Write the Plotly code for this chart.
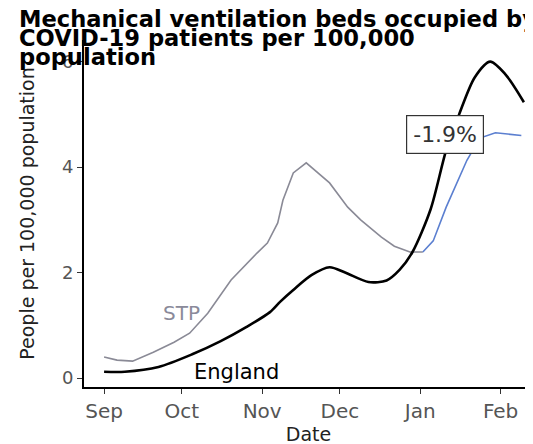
import plotly.graph_objects as go

# England series
eng_dates = ["2020-09-01", "2020-09-09", "2020-09-22", "2020-10-05", "2020-10-16", "2020-10-26",
             "2020-11-04", "2020-11-08", "2020-11-13", "2020-11-20", "2020-11-27", "2020-12-03",
             "2020-12-12", "2020-12-19", "2020-12-24", "2020-12-29", "2021-01-05", "2021-01-11",
             "2021-01-16", "2021-01-22", "2021-01-28", "2021-02-03", "2021-02-10"]
eng_vals = [0.12, 0.12, 0.21, 0.45, 0.70, 0.97,
            1.25, 1.45, 1.67, 1.95, 2.10, 2.00,
            1.82, 1.85, 2.05, 2.39, 3.20, 4.32,
            5.00, 5.70, 6.00, 5.75, 5.23]

# STP series (grey part, then recent blue part)
stp_dates = ["2020-09-01", "2020-09-06", "2020-09-12", "2020-09-20", "2020-09-28", "2020-10-04",
             "2020-10-11", "2020-10-20", "2020-10-30", "2020-11-03", "2020-11-07", "2020-11-09",
             "2020-11-13", "2020-11-18", "2020-11-27", "2020-12-04", "2020-12-09", "2020-12-17",
             "2020-12-22", "2020-12-28", "2021-01-02"]
stp_vals = [0.40, 0.34, 0.32, 0.49, 0.68, 0.85,
            1.23, 1.86, 2.37, 2.56, 2.94, 3.37,
            3.89, 4.08, 3.70, 3.24, 3.00, 2.67,
            2.50, 2.39, 2.39]
stp_recent_dates = ["2021-01-02", "2021-01-06", "2021-01-11", "2021-01-19", "2021-01-24",
                    "2021-01-30", "2021-02-09"]
stp_recent_vals = [2.39, 2.60, 3.24, 4.13, 4.55, 4.65, 4.60]

y_ticks = [0, 2, 4, 6]
x_tick_dates = ["2020-09-01", "2020-10-01", "2020-11-01", "2020-12-01", "2021-01-01", "2021-02-01"]
x_tick_labels = ["Sep", "Oct", "Nov", "Dec", "Jan", "Feb"]
change_label = "-1.9%"

fig = go.Figure()
fig.add_trace(go.Scatter(x=stp_dates, y=stp_vals, mode="lines",
                         line=dict(color="#8a8a96", width=1.6), showlegend=False))
fig.add_trace(go.Scatter(x=stp_recent_dates, y=stp_recent_vals, mode="lines",
                         line=dict(color="#5b7fd0", width=1.6), showlegend=False))
fig.add_trace(go.Scatter(x=eng_dates, y=eng_vals, mode="lines",
                         line=dict(color="black", width=2.6, shape="spline", smoothing=0.8),
                         showlegend=False))

font = "DejaVu Sans"
fig.update_layout(
    width=533, height=444,
    margin=dict(l=76, r=8, t=32, b=65),
    paper_bgcolor="white", plot_bgcolor="white",
    font=dict(family=font),
    xaxis=dict(range=["2020-08-24 06:00", "2021-02-13 12:00"], tickvals=x_tick_dates,
               ticktext=x_tick_labels, showgrid=False, zeroline=False, automargin=False,
               showline=True, linecolor="black", linewidth=2,
               ticks="outside", ticklen=5, tickcolor="#333", tickwidth=1,
               tickfont=dict(size=20, color="#555"),
               title=dict(text="Date", font=dict(size=19, color="#222"), standoff=3)),
    yaxis=dict(range=[-0.17, 6.41], tickvals=y_ticks, showgrid=False, zeroline=False,
               automargin=False,
               showline=True, linecolor="black", linewidth=2,
               ticks="outside", ticklen=5, tickcolor="#333", tickwidth=1,
               tickfont=dict(size=18, color="#555"),
               title=dict(text="People per 100,000 population", font=dict(size=19, color="#222"),
                          standoff=22)),
)

title_lines = ["Mechanical ventilation beds occupied by", "COVID-19 patients per 100,000", "population"]
centers = [19, 38, 57]
for line, c in zip(title_lines, centers):
    fig.add_annotation(text="<b>" + line + "</b>", xref="paper", yref="paper",
                       x=(17 - 84) / 449, y=(387 - c) / 347,
                       xanchor="left", yanchor="middle", showarrow=False,
                       font=dict(size=22.6, color="black", family=font))

fig.add_annotation(text="STP", x="2020-10-01", y=1.23, showarrow=False,
                   font=dict(size=20, color="#8a8a9a", family=font))
fig.add_annotation(text="England", x="2020-10-22", y=0.12, showarrow=False,
                   font=dict(size=21, color="black", family=font))
fig.add_annotation(text=change_label, x="2021-01-10 12:00", y=4.61, showarrow=False,
                   bgcolor="white", bordercolor="#333", borderwidth=1.2, borderpad=6,
                   font=dict(size=22, color="#333", family=font))

fig.write_html("out.html")
